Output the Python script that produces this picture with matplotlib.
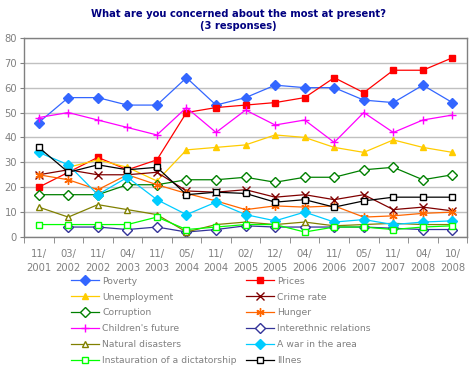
import matplotlib
matplotlib.use("Agg")
import matplotlib.pyplot as plt
import numpy as np

nan = np.nan
labels = ["11/\n2001", "03/\n2002", "11/\n2002", "04/\n2003", "11/\n2003", "05/\n2004",
          "11/\n2004", "02/\n2005", "12/\n2005", "04/\n2006", "11/\n2006", "05/\n2007",
          "11/\n2007", "04/\n2008", "10/\n2008"]

poverty = [46, 56, 56, 53, 53, 64, 53, 56, 61, 60, 60, 55, 54, 61, 54]
prices = [20, 26, 32, 27, 31, 50, 52, 53, 54, 56, 64, 58, 67, 67, 72]
unemployment = [nan, 28, 31, 28, 22.5, 35, 36, 37, 41, 40, 36, 34, 39, 36, 34]
crime_rate = [25, 27, 25, 25, 26, 18.5, 18, 19, 16, 17, 15, 17, 11, 12, 10.5]
corruption = [17, 17, 17, 21, 21, 23, 23, 24, 22, 24, 24, 27, 28, 23, 25]
hunger = [25, 23, 19, 25, 21, 17.5, 14.5, 11, 12.5, 12, 12.5, 8, 8.5, 9.5, 10]
children = [48, 50, 47, 44, 41, 52, 42, 51, 45, 47, 38, 50, 42, 47, 49]
interethnic = [nan, 4, 4, 3, 4, 2, 3, 4.5, 4, 4, 4, 4, 3.5, 3, 3]
natural = [12, 8, 13, 11, 9, 2, 5, 6, 5, 6, 4.5, 5, 5.5, 5, 5]
war = [34, 29, 17, 24, 15, 9, 14, 9, 6.5, 10, 6, 7, 5, 6, 6.5]
dictatorship = [5, 5, 5, 5, 8, 3, 4, 5, 5, 2, 4, 4, 3, 4, 4.5]
illnes = [36, 26, 29, 27, 28, 17, 18, 17.5, 14, 15, 12, 14.5, 16, 16, 16]

series = [
    ("Poverty", poverty, "#3366FF", "D", "#3366FF"),
    ("Prices", prices, "#FF0000", "s", "#FF0000"),
    ("Unemployment", unemployment, "#FFCC00", "^", "#FFCC00"),
    ("Crime rate", crime_rate, "#800000", "x", "#800000"),
    ("Corruption", corruption, "#008000", "D", "white"),
    ("Hunger", hunger, "#FF6600", (6, 2, 0), "#FF6600"),
    ("Children's future", children, "#FF00FF", "+", "#FF00FF"),
    ("Interethnic relations", interethnic, "#333399", "D", "white"),
    ("Natural disasters", natural, "#808000", "^", "white"),
    ("A war in the area", war, "#00CCFF", "D", "#00CCFF"),
    ("Instauration of a dictatorship", dictatorship, "#00FF00", "s", "white"),
    ("Illnes", illnes, "#000000", "s", "white"),
]

plt.rcParams['font.family'] = ['DejaVu Sans']
fig = plt.figure(figsize=(4.7, 3.75), dpi=100)
ax = fig.add_axes([0.051, 0.368, 0.943, 0.531])

x = np.arange(len(labels))
handles = {}
for name, vals, col, mk, fc in series:
    ms = 5
    if mk in ("x", "+") or isinstance(mk, tuple):
        ms = 6
    h, = ax.plot(x, vals, color=col, linewidth=0.9, marker=mk, markersize=ms,
                 markerfacecolor=fc, markeredgecolor=col, markeredgewidth=1.0,
                 label=name)
    handles[name] = h

ax.set_xlim(-0.5, 14.5)
ax.set_ylim(0, 80)
ax.set_yticks(range(0, 81, 10))
ax.set_xticks(x)
ax.set_xticklabels(labels, linespacing=1.45)
ax.set_xticks(np.arange(-0.5, 15, 1), minor=True)
ax.tick_params(axis='x', which='major', length=0, pad=9, labelsize=7.2, labelcolor='#808080')
ax.tick_params(axis='x', which='minor', length=4, color='#808080', direction='out')
ax.tick_params(axis='y', length=3, color='#808080', labelsize=7.2, labelcolor='#808080', pad=2)
ax.grid(axis='y', color='#C0C0C0', linewidth=1)
ax.set_axisbelow(True)
for s in ax.spines.values():
    s.set_color('#808080')
    s.set_linewidth(1)

fig.text(0.508, 0.947, "What are you concerned about the most at present?\n(3 responses)",
         ha='center', va='center', fontsize=7.2, fontweight='bold', color='#000080',
         linespacing=1.3)

order = ["Poverty", "Unemployment", "Corruption", "Children's future", "Natural disasters",
         "Instauration of a dictatorship", "Prices", "Crime rate", "Hunger",
         "Interethnic relations", "A war in the area", "Illnes"]
leg = fig.legend([handles[n] for n in order], order, ncol=2, loc='upper left',
                 bbox_to_anchor=(0.142, 0.275), frameon=False, fontsize=6.7,
                 handlelength=3.0, handletextpad=0.3, columnspacing=1.05,
                 labelspacing=0.75, borderpad=0)
for t in leg.get_texts():
    t.set_color('#808080')

fig.savefig("out.png", dpi=100)
